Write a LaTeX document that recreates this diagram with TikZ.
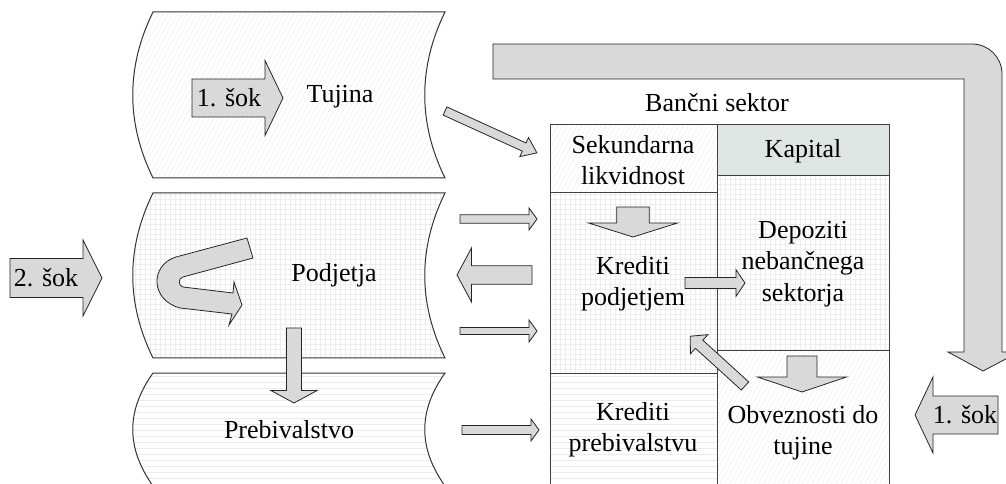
\documentclass[tikz,border=0pt]{standalone}
\usepackage{fontspec}
\setmainfont{Liberation Serif}
\usetikzlibrary{patterns.meta}
\definecolor{arrfill}{RGB}{217,217,217}
\definecolor{kapfill}{RGB}{222,229,227}
\tikzset{
  blk/.style={draw=black!85, fill=arrfill, line width=0.6pt, line join=miter},
  band/.style={draw=black!80, line width=0.75pt},
  cellbox/.style={draw=black!75, line width=0.75pt},
  hatchfill/.style={pattern={Lines[angle=62,distance=3.2pt,line width=0.3pt]}, pattern color=black!8},
  gridfill/.style={pattern={Hatch[angle=0,distance=3.75pt,line width=0.3pt]}, pattern color=black!7},
  hlinefill/.style={pattern={Lines[angle=0,distance=4.5pt,line width=0.45pt]}, pattern color=black!8},
  lbl/.style={font=\fontsize{19.5}{23.5}\selectfont, align=center, inner sep=0pt},
}
% block arrow: tail x, tail y, length, page angle, shaft half width, head half width, head length
\newcommand\barrow[7]{%
  \begin{scope}[shift={(#1,#2)},rotate=#4]
    \draw[blk] (0,-#5) -- ({#3-#7},-#5) -- ({#3-#7},-#6) -- (#3,0) -- ({#3-#7},#6) -- ({#3-#7},#5) -- (0,#5) -- cycle;
  \end{scope}}
\begin{document}
\begin{tikzpicture}[x=0.75pt,y=-0.75pt]
\useasboundingbox (0,0) rectangle (1006,484);
\clip (0,0) rectangle (1006,484);
% bands
\draw[band,hatchfill] (153,12) -- (445,12) .. controls (418,67) and (418,123) .. (445,178) -- (153,178) .. controls (126,123) and (126,67) .. cycle;
\draw[band,gridfill] (153,193) -- (445,193) .. controls (418,248) and (418,303) .. (445,358) -- (153,358) .. controls (126,303) and (126,248) .. cycle;
\draw[band,hlinefill] (153,373) -- (445,373) .. controls (418,411) and (418,448) .. (445,486) -- (153,486) .. controls (126,448) and (126,411) .. cycle;
% bank cells
\draw[cellbox,hatchfill] (550,125) rectangle (717,193);
\draw[cellbox,fill=kapfill] (717,125) rectangle (889,176);
\draw[cellbox,gridfill] (550,193) rectangle (717,373);
\draw[cellbox,gridfill] (717,176) rectangle (889,351);
\draw[cellbox,hlinefill] (550,373) rectangle (717,490);
\draw[cellbox,hatchfill] (717,351) rectangle (889,490);
% big L arrow
\draw[blk] (493,44) -- (972,44) .. controls (988.6,44) and (1002,57.4) .. (1002,74) -- (1002,352) -- (1019,352) -- (983,371) -- (948,352) -- (964,352) -- (964,79) -- (493,79) -- cycle;
% block arrows
\barrow{192}{98}{91}{0}{19}{37.5}{18}
\barrow{445}{111}{101}{-24.5}{4.5}{10.5}{14}
\barrow{460}{219}{77}{0}{4.2}{11}{8}
\barrow{532}{275}{75}{180}{9.3}{27}{14.5}
\barrow{460}{331}{77}{0}{3.5}{11}{8}
\barrow{462}{430}{77}{0}{4.5}{11}{8}
\barrow{294}{328}{75}{-90}{7.5}{23.3}{12.6}
\barrow{10}{278}{92}{0}{19.5}{38}{19}
\barrow{633}{207}{30}{-90}{16.3}{44.5}{14}
\barrow{685}{283}{60}{0}{5.5}{13.3}{9}
\barrow{745}{386}{74}{137.7}{5.5}{13}{12}
\barrow{802}{356}{36}{-90}{15}{44.5}{15}
\barrow{998}{415}{83}{180}{19}{38}{18}
% U-turn arrow
\draw[blk] (247,238) -- (176,257) .. controls (150,265) and (150,300) .. (180,308) -- (232,314) -- (229,325) -- (242,305) -- (234,282) -- (233,293) -- (183,287) .. controls (178,286) and (178,278) .. (183,277) -- (253,258) -- cycle;
% labels
\node[lbl] (sokA) at (229,98) {1. šok};
\node[lbl] (tujina) at (340,97) {Tujina};
\node[lbl] (podjetja) at (334,275) {Podjetja};
\node[lbl] (preb) at (289,430) {Prebivalstvo};
\node[lbl] (sokB) at (46,278) {2. šok};
\node[lbl] (banka) at (717,103) {Bančni sektor};
\node[lbl] (sek) at (633,160) {Sekundarna\\likvidnost};
\node[lbl] (kap) at (803,151) {Kapital};
\node[lbl] (krp) at (633,284) {Krediti\\podjetjem};
\node[lbl] (dep) at (803,264) {Depoziti\\nebančnega\\sektorja};
\node[lbl] (krpr) at (633,430) {Krediti\\prebivalstvu};
\node[lbl] (obv) at (803,433) {Obveznosti do\\tujine};
\node[lbl] (sokC) at (965,415) {1. šok};
\end{tikzpicture}
\end{document}
